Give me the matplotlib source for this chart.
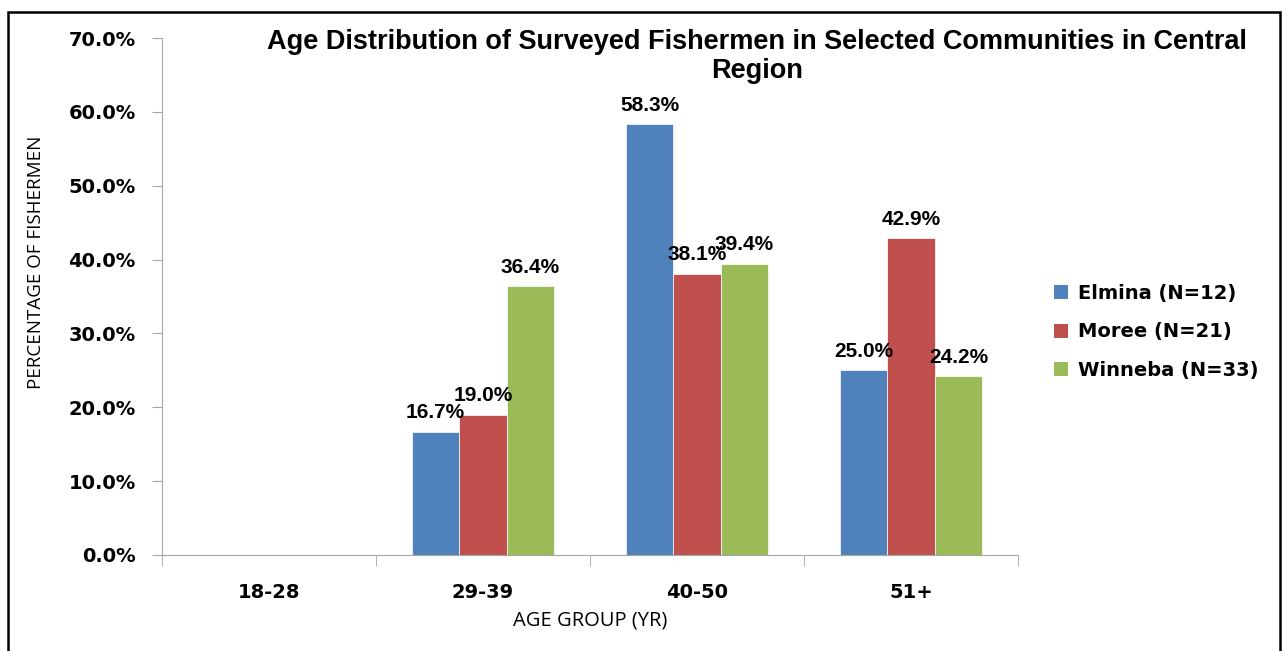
import numpy as np
import matplotlib.pyplot as plt
from matplotlib.patches import Rectangle, Patch
from matplotlib.ticker import FixedLocator, PercentFormatter

# Data
age_groups = ["18-28", "29-39", "40-50", "51+"]
elmina = [0.0, 16.7, 58.3, 25.0]
moree = [0.0, 19.0, 38.1, 42.9]
winneba = [0.0, 36.4, 39.4, 24.2]
series_names = ["Elmina (N=12)", "Moree (N=21)", "Winneba (N=33)"]
colors = ["#4F81BD", "#C0504D", "#9BBB59"]

W, H = 1285, 651
fig = plt.figure(figsize=(W / 100, H / 100), dpi=100)
ax = fig.add_axes([162 / W, 1 - 555 / H, (1018 - 162) / W, (555 - 38) / H])

x = np.arange(len(age_groups))
bw = 0.222
for i, (vals, col) in enumerate(zip([elmina, moree, winneba], colors)):
    pos = x + (i - 1) * bw
    ax.bar(pos, vals, width=bw, color=col, edgecolor="white", linewidth=0.5)
    for p, v in zip(pos, vals):
        if v > 0:
            ax.text(p, v + 1.3, f"{v:.1f}%", ha="center", va="bottom",
                    fontsize=15, fontweight="bold", family="Liberation Sans")

ax.set_xlim(-0.5, 3.5)
ax.set_ylim(0, 70)
ax.set_yticks(np.arange(0, 71, 10))
ax.yaxis.set_major_formatter(PercentFormatter(decimals=1))
ax.set_xticks(x)
ax.set_xticklabels(age_groups)
ax.xaxis.set_minor_locator(FixedLocator(np.arange(-0.5, 3.6, 1)))
ax.tick_params(axis="x", which="major", length=0, pad=20)
ax.tick_params(axis="x", which="minor", length=8, color="#A6A6A6", direction="out")
ax.tick_params(axis="y", length=7, color="#A6A6A6", pad=12)
for lbl in ax.get_xticklabels() + ax.get_yticklabels():
    lbl.set_fontsize(14)
    lbl.set_fontweight("bold")

for s in ["top", "right"]:
    ax.spines[s].set_visible(False)
for s in ["left", "bottom"]:
    ax.spines[s].set_color("#A6A6A6")

ax.set_xlabel("AGE GROUP (YR)", fontsize=14.5, family="Open Sans", labelpad=6)
fig.text(36 / W, 1 - 262 / H, "PERCENTAGE OF FISHERMEN", rotation=90,
         ha="center", va="center", fontsize=13.5, family="Open Sans")

fig.text(757 / W, 1 - 42 / H, "Age Distribution of Surveyed Fishermen in Selected Communities in Central",
         ha="center", va="center", fontsize=19.5, fontweight="bold", family="Liberation Sans")
fig.text(757 / W, 1 - 71 / H, "Region",
         ha="center", va="center", fontsize=19.5, fontweight="bold", family="Liberation Sans")

handles = [Patch(facecolor=c, edgecolor="none") for c in colors]
fig.legend(handles, series_names, loc="center left", bbox_to_anchor=(1036 / W, 1 - 332 / H),
           frameon=False, prop={"size": 14, "weight": "bold"},
           handlelength=0.75, handleheight=0.75, handletextpad=0.5, labelspacing=1.0)

# outer frame
fig.patches.append(Rectangle((8 / W, -0.05), (1280 - 8) / W, 1.05 - 12 / H,
                             transform=fig.transFigure, fill=False,
                             edgecolor="black", linewidth=1.8))

fig.savefig("out.png", dpi=100)
